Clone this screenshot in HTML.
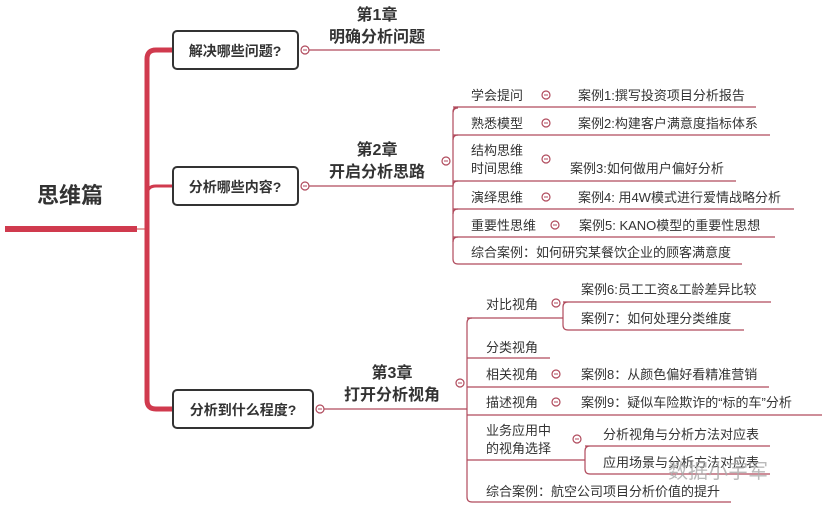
<!DOCTYPE html>
<html><head><meta charset="utf-8"><style>
html,body{margin:0;padding:0;background:#fff;}
svg{display:block;}
text{font-family:"Liberation Sans","Noto Sans CJK SC",sans-serif;fill:#333;}
.b{font-weight:bold;}
.t{font-size:13px;}
</style></head><body>
<svg width="824" height="508" viewBox="0 0 824 508" xmlns="http://www.w3.org/2000/svg">
<rect width="824" height="508" fill="#fff"/>
<!-- root -->
<text x="70" y="203" class="b" font-size="22" text-anchor="middle">思维篇</text>
<rect x="5" y="226" width="132" height="6" fill="#d03a4e"/>
<line x1="137" y1="229" x2="147" y2="229" stroke="#c44" stroke-width="1"/>
<path d="M172 50 H156 Q147 50 147 59 V400 Q147 409 156 409 H172" fill="none" stroke="#d03a4e" stroke-width="5"/>
<path d="M147 195 Q147 186 156 186 H172" fill="none" stroke="#d03a4e" stroke-width="3"/>
<!-- boxes -->
<g fill="#fff" stroke="#333" stroke-width="2">
<rect x="173" y="31" width="125" height="38" rx="4"/>
<rect x="173" y="167" width="125" height="38" rx="4"/>
<rect x="173" y="390" width="140" height="38" rx="4"/>
</g>
<text x="235" y="56" class="b" font-size="14" text-anchor="middle">解决哪些问题?</text>
<text x="235" y="192" class="b" font-size="14" text-anchor="middle">分析哪些内容?</text>
<text x="243" y="415" class="b" font-size="14" text-anchor="middle">分析到什么程度?</text>
<!-- thin lines -->
<g fill="none" stroke="#b04a5c" stroke-width="1.2">
<line x1="309" y1="50" x2="440" y2="50"/>
<line x1="309" y1="186" x2="453" y2="186"/>
<line x1="324" y1="409" x2="467" y2="409"/>
<!-- ch2 bracket -->
<path d="M458 108 Q453 108 453 113 V259 Q453 264 458 264"/>
<path d="M453 107 H756 M453 135 H770 M453 181 H736 M453 209 H794 M453 237 H775 M458 264 H742"/>
<path d="M453 112 Q453 107 458 107 M453 140 Q453 135 458 135 M453 186 Q453 181 458 181 M453 214 Q453 209 458 209 M453 242 Q453 237 458 237"/>
<!-- ch3 bracket -->
<path d="M472 318 Q467 318 467 323 V497 Q467 502 472 502"/>
<path d="M467 318 H563 M467 358 H550 M467 387 H769 M467 415 H822 M467 460 H585 M472 502 H731"/>
<path d="M568 302 Q563 302 563 307 V325 Q563 330 568 330 M563 302 H771 M568 330 H744"/>
<path d="M590 446 Q585 446 585 451 V469 Q585 474 590 474 M585 446 H770 M590 474 H770"/>
</g>
<!-- circles -->
<g fill="#fff" stroke="#b04a5c" stroke-width="1.2">
<circle cx="305" cy="50" r="4"/><circle cx="305" cy="186" r="4"/><circle cx="320" cy="409" r="4"/>
<circle cx="446" cy="161" r="4"/><circle cx="460" cy="383" r="4"/>
<circle cx="546" cy="95" r="4"/><circle cx="546" cy="123" r="4"/><circle cx="546" cy="159" r="4"/>
<circle cx="546" cy="197" r="4"/><circle cx="555" cy="225" r="4"/>
<circle cx="556" cy="303" r="4"/><circle cx="556" cy="374" r="4"/><circle cx="556" cy="402" r="4"/>
<circle cx="577" cy="439" r="4"/>
</g>
<g stroke="#b04a5c" stroke-width="1">
<line x1="303" y1="50" x2="307" y2="50"/><line x1="303" y1="186" x2="307" y2="186"/><line x1="318" y1="409" x2="322" y2="409"/>
<line x1="444" y1="161" x2="448" y2="161"/><line x1="458" y1="383" x2="462" y2="383"/>
<line x1="544" y1="95" x2="548" y2="95"/><line x1="544" y1="123" x2="548" y2="123"/><line x1="544" y1="159" x2="548" y2="159"/>
<line x1="544" y1="197" x2="548" y2="197"/><line x1="553" y1="225" x2="557" y2="225"/>
<line x1="554" y1="303" x2="558" y2="303"/><line x1="554" y1="374" x2="558" y2="374"/><line x1="554" y1="402" x2="558" y2="402"/>
<line x1="575" y1="439" x2="579" y2="439"/>
</g>
<!-- chapter labels -->
<g class="b" font-size="16" text-anchor="middle">
<text x="377" y="20">第1章</text><text x="377" y="42">明确分析问题</text>
<text x="377" y="155">第2章</text><text x="377" y="177">开启分析思路</text>
<text x="392" y="378">第3章</text><text x="392" y="400">打开分析视角</text>
</g>
<!-- ch2 items -->
<g class="t">
<text x="471" y="100">学会提问</text><text x="578" y="100">案例1:撰写投资项目分析报告</text>
<text x="471" y="128">熟悉模型</text><text x="578" y="128">案例2:构建客户满意度指标体系</text>
<text x="471" y="155">结构思维</text><text x="471" y="173">时间思维</text><text x="570" y="173">案例3:如何做用户偏好分析</text>
<text x="471" y="202">演绎思维</text><text x="578" y="202">案例4: 用4W模式进行爱情战略分析</text>
<text x="471" y="230">重要性思维</text><text x="579" y="230">案例5: KANO模型的重要性思想</text>
<text x="471" y="257">综合案例：如何研究某餐饮企业的顾客满意度</text>
<!-- ch3 items -->
<text x="486" y="309">对比视角</text>
<text x="581" y="294">案例6:员工工资&amp;工龄差异比较</text>
<text x="581" y="323">案例7：如何处理分类维度</text>
<text x="486" y="352">分类视角</text>
<text x="486" y="379">相关视角</text><text x="581" y="379">案例8：从颜色偏好看精准营销</text>
<text x="486" y="407">描述视角</text><text x="581" y="407">案例9：疑似车险欺诈的“标的车”分析</text>
<text x="486" y="435">业务应用中</text><text x="486" y="453">的视角选择</text>
<text x="603" y="439">分析视角与分析方法对应表</text>
<text x="603" y="467">应用场景与分析方法对应表</text>
<text x="486" y="496">综合案例：航空公司项目分析价值的提升</text>
</g>
<text x="668" y="478" font-size="20" fill="#999" style="fill:#aaa;opacity:0.8">数据小宇军</text>
</svg>
</body></html>
